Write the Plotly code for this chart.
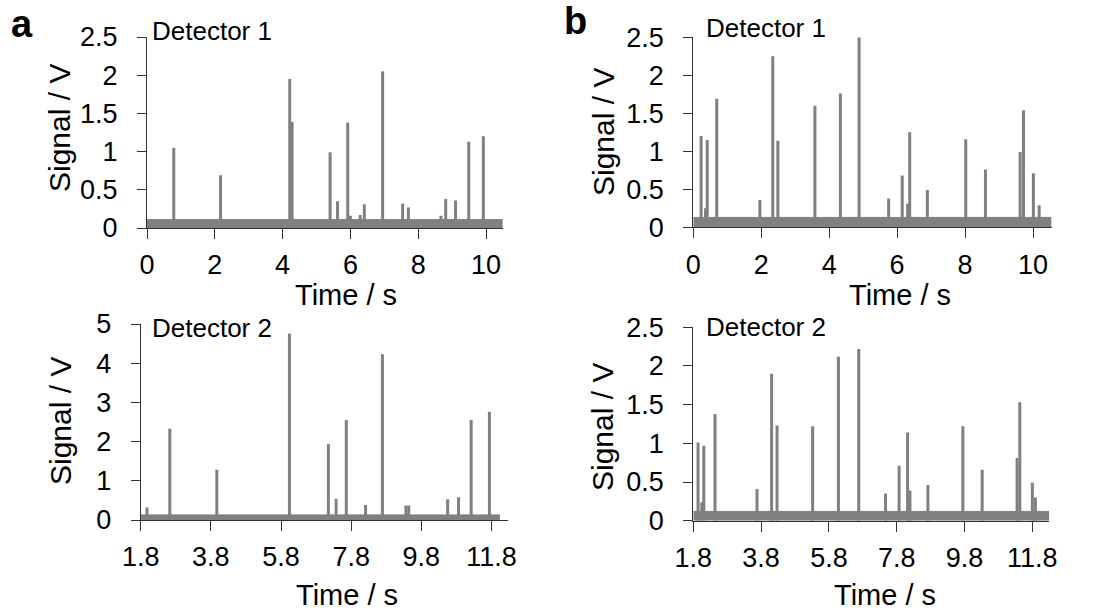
import plotly.graph_objects as go

W, H = 1095, 611

# ---------------- data ----------------
# Panel a, Detector 1
a1_t = [0.79, 2.17, 4.21, 4.28, 5.40, 5.62, 5.92, 6.00, 6.29, 6.41, 6.95, 7.54, 7.71, 8.67, 8.81, 9.10, 9.49, 9.92]
a1_h = [1.05, 0.69, 1.95, 1.39, 0.99, 0.35, 1.38, 0.16, 0.17, 0.31, 2.05, 0.32, 0.27, 0.16, 0.38, 0.36, 1.13, 1.20]
a1_span = [0.0, 10.49]
a1_noise = 0.11

# Panel a, Detector 2
a2_t = [1.98, 2.63, 3.97, 6.04, 7.15, 7.37, 7.66, 8.21, 8.69, 9.36, 9.44, 10.55, 10.86, 11.22, 11.74]
a2_h = [0.32, 2.33, 1.28, 4.76, 1.94, 0.54, 2.55, 0.38, 4.23, 0.37, 0.37, 0.53, 0.58, 2.55, 2.76]
a2_span = [1.8, 12.04]
a2_noise = 0.13

# Panel b, Detector 1
b1_t = [0.23, 0.36, 0.41, 0.69, 1.96, 2.34, 2.49, 3.58, 4.33, 4.88, 5.75, 6.15, 6.31, 6.37, 6.89, 8.02, 8.60, 9.62, 9.72, 10.01, 10.18]
b1_h = [1.20, 0.25, 1.15, 1.69, 0.36, 2.25, 1.14, 1.60, 1.76, 2.50, 0.38, 0.68, 0.31, 1.25, 0.49, 1.16, 0.76, 0.99, 1.54, 0.71, 0.29]
b1_span = [0.0, 10.54]
b1_noise = 0.13

# Panel b, Detector 2
b2_t = [1.94, 2.05, 2.11, 2.44, 3.68, 4.11, 4.27, 5.32, 6.08, 6.68, 7.47, 7.87, 8.12, 8.19, 8.72, 9.75, 10.32, 11.35, 11.43, 11.80, 11.89]
b2_h = [1.01, 0.24, 0.97, 1.38, 0.41, 1.90, 1.23, 1.22, 2.12, 2.22, 0.35, 0.71, 1.14, 0.39, 0.46, 1.22, 0.66, 0.81, 1.53, 0.49, 0.30]
b2_span = [1.8, 12.30]
b2_noise = 0.12

x_ticks_top = [0, 2, 4, 6, 8, 10]
x_ticks_bottom = [1.8, 3.8, 5.8, 7.8, 9.8, 11.8]
y_ticks_25 = [0, 0.5, 1, 1.5, 2, 2.5]
y_ticks_5 = [0, 1, 2, 3, 4, 5]

# ---------------- layout geometry (pixels) ----------------
panels = [
    dict(t=a1_t, h=a1_h, span=a1_span, noise=a1_noise, xpx=(147, 503), ypx=(37, 228),
         xr=[0, 10.5], yr=[0, 2.5], xt=x_ticks_top, yt=y_ticks_25, det="Detector 1",
         detpos=(151, 31), ylab=(59, 128), xlab=(346, 295)),
    dict(t=a2_t, h=a2_h, span=a2_span, noise=a2_noise, xpx=(140.7, 508), ypx=(324, 520),
         xr=[1.8, 12.27], yr=[0, 5], xt=x_ticks_bottom, yt=y_ticks_5, det="Detector 2",
         detpos=(151, 328), ylab=(60, 421), xlab=(347, 595)),
    dict(t=b1_t, h=b1_h, span=b1_span, noise=b1_noise, xpx=(693.3, 1051.7), ypx=(37.3, 227.3),
         xr=[0, 10.55], yr=[0, 2.5], xt=x_ticks_top, yt=y_ticks_25, det="Detector 1",
         detpos=(705, 28), ylab=(603, 132), xlab=(900, 295)),
    dict(t=b2_t, h=b2_h, span=b2_span, noise=b2_noise, xpx=(693.3, 1049.3), ypx=(327.3, 520.7),
         xr=[1.8, 12.3], yr=[0, 2.5], xt=x_ticks_bottom, yt=y_ticks_25, det="Detector 2",
         detpos=(705, 327), ylab=(602, 427), xlab=(885, 595)),
]

GRAY = "#808080"
FONT = "Liberation Sans, Arial, sans-serif"

fig = go.Figure()
layout = dict(width=W, height=H, margin=dict(l=0, r=0, t=0, b=0, autoexpand=False),
              paper_bgcolor="white", plot_bgcolor="white", showlegend=False,
              font=dict(family=FONT, color="black"))
annotations = []

for i, p in enumerate(panels, start=1):
    sfx = "" if i == 1 else str(i)
    xa, ya = "x" + sfx, "y" + sfx
    # noise band
    fig.add_trace(go.Scatter(x=p["span"], y=[p["noise"], p["noise"]], mode="lines",
                             fill="tozeroy", fillcolor=GRAY, line=dict(color=GRAY, width=1),
                             xaxis=xa, yaxis=ya, hoverinfo="skip"))
    # spikes
    xs, ys = [], []
    for t, h in zip(p["t"], p["h"]):
        xs += [t, t, None]
        ys += [0, h, None]
    fig.add_trace(go.Scatter(x=xs, y=ys, mode="lines", line=dict(color=GRAY, width=3),
                             xaxis=xa, yaxis=ya, hoverinfo="skip"))
    x0, x1 = p["xpx"]
    yt, yb = p["ypx"]
    layout["xaxis" + sfx] = dict(domain=[x0 / W, x1 / W], range=p["xr"], anchor=ya,
                                 tickvals=p["xt"], ticktext=[f"{v:g}" for v in p["xt"]],
                                 ticks="outside", ticklen=10, tickwidth=1, tickcolor="#333",
                                 showline=True, linecolor="#333", linewidth=1,
                                 showgrid=False, zeroline=False, automargin=False,
                                 tickfont=dict(size=27, family=FONT, color="black"),
                                 ticklabelstandoff=3)
    layout["yaxis" + sfx] = dict(domain=[1 - yb / H, 1 - yt / H], range=p["yr"], anchor=xa,
                                 tickvals=p["yt"], ticktext=[f"{v:g}" for v in p["yt"]],
                                 ticks="outside", ticklen=9, tickwidth=1, tickcolor="#333",
                                 showline=True, linecolor="#333", linewidth=1,
                                 showgrid=False, zeroline=False, automargin=False,
                                 tickfont=dict(size=27, family=FONT, color="black"),
                                 ticklabelstandoff=14)
    annotations.append(dict(text=p["det"], x=p["detpos"][0] / W, y=1 - p["detpos"][1] / H,
                            xref="paper", yref="paper", xanchor="left", yanchor="middle",
                            showarrow=False, font=dict(size=26, family=FONT, color="black"),
                            bgcolor="white", borderpad=0))
    annotations.append(dict(text="Signal / V", x=p["ylab"][0] / W, y=1 - p["ylab"][1] / H,
                            xref="paper", yref="paper", xanchor="center", yanchor="middle",
                            textangle=-90, showarrow=False,
                            font=dict(size=30, family=FONT, color="black")))
    annotations.append(dict(text="Time / s", x=p["xlab"][0] / W, y=1 - p["xlab"][1] / H,
                            xref="paper", yref="paper", xanchor="center", yanchor="middle",
                            showarrow=False, font=dict(size=29, family=FONT, color="black")))

annotations.append(dict(text="<b>a</b>", x=22 / W, y=1 - 24 / H, xref="paper", yref="paper",
                        xanchor="center", yanchor="middle", showarrow=False,
                        font=dict(size=38, family=FONT, color="black")))
annotations.append(dict(text="<b>b</b>", x=575 / W, y=1 - 21 / H, xref="paper", yref="paper",
                        xanchor="center", yanchor="middle", showarrow=False,
                        font=dict(size=38, family=FONT, color="black")))
layout["annotations"] = annotations
fig.update_layout(**layout)
fig.write_html("out.html")
